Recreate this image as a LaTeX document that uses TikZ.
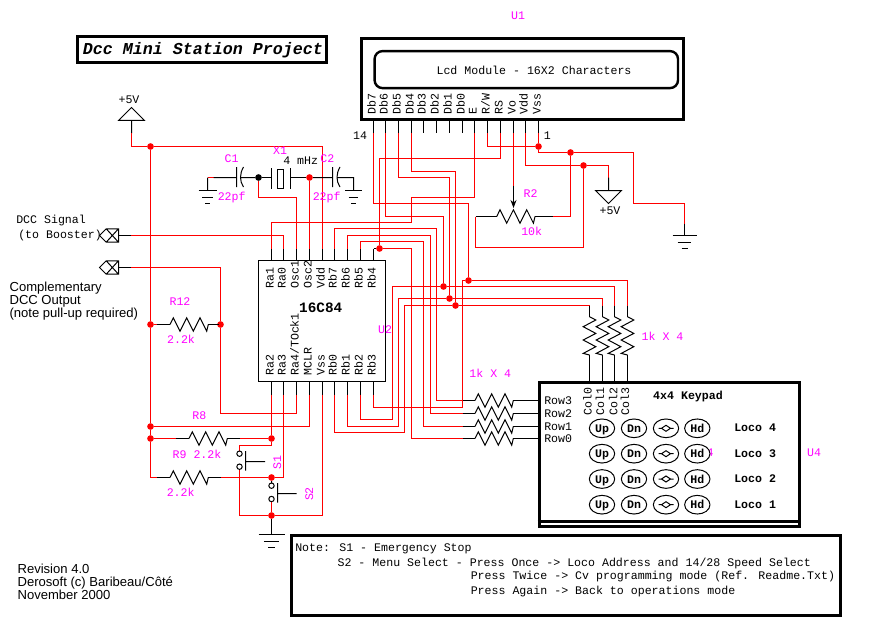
\documentclass[tikz,border=0pt]{standalone}
\usepackage{fontspec}
\usetikzlibrary{shapes.geometric,arrows.meta}
\newfontfamily\monof{Liberation Mono}
\newfontfamily\sansf{Liberation Sans}
\definecolor{pinkish}{RGB}{255,0,255}
\tikzset{
  wire/.style={red,line width=0.75pt},
  stub/.style={black,line width=0.75pt},
  junct/.style={circle,fill=red,inner sep=0pt,minimum size=5pt},
  txt/.style={font=\monof\fontsize{8.7}{10}\selectfont,inner sep=0pt,text height=6pt,text depth=0pt},
  boldtxt/.style={txt,font=\monof\bfseries\fontsize{8.7}{10}\selectfont},
  pinktxt/.style={txt,text=pinkish},
  pinlab/.style={txt,rotate=90,anchor=west},
  sanstxt/.style={font=\sansf\fontsize{9.8}{11}\selectfont,inner sep=0pt,anchor=west,text height=7pt,text depth=0pt},
  bigbox/.style={draw,line width=2.25pt,inner sep=0pt},
  btn/.style={ellipse,draw,fill=white,line width=0.75pt,inner sep=0pt,minimum width=19pt,minimum height=14pt,boldtxt},
  pics/resh/.style={code={\draw[stub] (0,0)--(3.3,-6.7)--(10,6.7)--(16.7,-6.7)--(23.3,6.7)--(30,-6.7)--(36.7,6.7)--(38.3,0);}},
  pics/resv/.style={code={\draw[stub] (0,0)--(6.3,3.3)--(-6.3,10)--(6.3,16.7)--(-6.3,23.3)--(6.3,30)--(-6.3,36.7)--(0,38.3);}},
  pics/gnd/.style={code={\draw[stub] (-#1,0)--(#1,0) (-#1*.58,6.5)--(#1*.58,6.5) (-#1*.25,13)--(#1*.25,13);}},
  pics/dccx/.style={code={\draw[stub] (0,0)--(6.7,-6.7)--(19,-6.7)--(19,6.7)--(6.7,6.7)--cycle (6.7,-6.7)--(19,6.7) (19,-6.7)--(6.7,6.7);}},
  pics/lens/.style={code={\draw[stub] (-7.5,0)--(-4.5,0)--(0,-3)--(4.5,0)--(7.5,0) (4.5,0)--(0,3)--(-4.5,0);}}
}
\begin{document}
\begin{tikzpicture}[x=0.75pt,y=-0.75pt]
\useasboundingbox (0,0) rectangle (873,631);
\node[bigbox,minimum width=186.75pt,minimum height=19.9pt] (titlebox) at (202,49.7) {};
\node[inner sep=0pt,font=\monof\bfseries\itshape\fontsize{12.5}{14}\selectfont] (title) at (203,50) {Dcc Mini Station Project};
\node[bigbox,minimum width=241.5pt,minimum height=60.75pt] (lcd) at (522.5,78.7) {};
\node[draw,line width=1.8pt,rounded corners=6pt,inner sep=0pt,minimum width=227.6pt,minimum height=27.75pt] (lcdwin) at (526.3,69.6) {};
\node[txt] (lcdtxt) at (534,71) {Lcd Module - 16X2 Characters};
\node[pinktxt] (u1) at (518,16) {U1};
\node[draw,line width=0.75pt,inner sep=0pt,minimum width=95.25pt,minimum height=90.75pt] (mcu) at (322,321) {};
\node[boldtxt,font=\monof\bfseries\fontsize{10.75}{12}\selectfont] (mcuname) at (320.7,308.3) {16C84};
\node[pinktxt] (u2) at (385,329) {U2};
\foreach \nm/\px/\lab in {db7/373.5/Db7,db6/385.5/Db6,db5/398.5/Db5,db4/411.5/Db4,db3/423.5/Db3,db2/436.5/Db2,db1/449.5/Db1,db0/462.5/Db0,lcde/474.5/E,rw/487.5/R\slash W,rs/500.5/RS,vo/513.5/Vo,vdd/525.5/Vdd,vss/538.5/Vss}{
  \coordinate (\nm) at (\px,133.5);
  \draw[stub] (\px,120)--(\nm);
  \node[pinlab] (lab\nm) at ({\px-2},114.5) {\lab};
}
\foreach \nm/\px/\lab in {tra1/271.5/Ra1,tra0/283.5/Ra0,tosc1/296.5/Osc1,tosc2/309.5/Osc2,tvdd/322.5/Vdd,trb7/334.5/Rb7,trb6/347.5/Rb6,trb5/360.5/Rb5,trb4/373.5/Rb4}{
  \coordinate (\nm) at (\px,248.5);
  \draw[stub] (\px,260.5)--(\nm);
  \node[pinlab] (lab\nm) at ({\px-2},289) {\lab};
}
\foreach \nm/\px/\lab in {bra2/271.5/Ra2,bra3/283.5/Ra3,bra4/296.5/Ra4\slash TOck1,bmclr/309.5/MCLR,bvss/322.5/Vss,brb0/334.5/Rb0,brb1/347.5/Rb1,brb2/360.5/Rb2,brb3/373.5/Rb3}{
  \coordinate (\nm) at (\px,394.5);
  \draw[stub] (\px,381.5)--(\nm);
  \node[pinlab] (lab\nm) at ({\px-2},376) {\lab};
}
\node[junct] (jrb4) at (379.5,248.5) {};
\node[junct] (jcol3) at (468.5,280.5) {};
\node[junct] (jcol2) at (443.5,286.5) {};
\node[junct] (jcol1) at (449.5,298.5) {};
\node[junct] (jcol0) at (455.5,305.5) {};
\node[junct] (jvss) at (538.5,146.5) {};
\node[junct] (jpot) at (570.5,152.5) {};
\node[junct] (jvdd) at (583.5,165.5) {};
\node[junct] (jvcc) at (150.5,146.5) {};
\node[junct] (jr12l) at (150.5,324.5) {};
\node[junct] (jr12r) at (220.5,324.5) {};
\node[junct] (jr8) at (150.5,426.5) {};
\node[junct] (jr9) at (150.5,438.5) {};
\node[junct] (jr9r) at (271.5,438.5) {};
\node[junct] (jr10) at (271.5,477.5) {};
\node[junct] (jgnd) at (271.5,515.5) {};
\node[junct] (jc2) at (309.5,177.5) {};
\node[junct,fill=black] (jc1) at (258.5,177.5) {};
\coordinate (row3) at (462.5,400.5);
\coordinate (row2) at (462.5,413.5);
\coordinate (row1) at (462.5,426.5);
\coordinate (row0) at (462.5,438.5);
\coordinate (col0) at (589.5,305.5);
\coordinate (col1) at (602.5,305.5);
\coordinate (col2) at (614.5,305.5);
\coordinate (col3) at (627.5,305.5);
\coordinate (vcc1) at (131.5,133.5);
\coordinate (vcc2) at (608.5,177.5);
\coordinate (gndr) at (684.5,223.5);
\coordinate (r2l) at (475.5,216.5);
\coordinate (r2r) at (552.5,216.5);
\coordinate (wiper) at (513.5,185.5);
\coordinate (dcc1) at (130.5,235.5);
\coordinate (dcc2) at (130.5,267.5);
\coordinate (r12l) at (156.5,324.5);
\coordinate (r12r) at (218.5,324.5);
\coordinate (r9l) at (175.5,438.5);
\coordinate (r9r) at (239.5,438.5);
\coordinate (r10l) at (156.5,477.5);
\coordinate (r10r) at (220.5,477.5);
\coordinate (s1a) at (239.5,451);
\coordinate (s1b) at (239.5,469.4);
\coordinate (s2a) at (271.5,483);
\coordinate (s2b) at (271.5,501.7);
\draw[wire] (db7) |- (468.5,203.5) -- (jcol3);
\draw[wire] (db6) |- (443.5,216.5) -- (jcol2);
\draw[wire] (db5) |- (449.5,177.5) -- (jcol1);
\draw[wire] (db4) |- (455.5,171.5) -- (jcol0);
\draw[wire] (lcde) |- (411.5,197.5) |- (271.5,222.5) -- (tra1);
\draw[wire] (rs) |- (379.5,158.5) -- (jrb4);
\draw[wire] (rw) |- (jvss);
\draw[wire] (vss) -- (jvss);
\draw[wire] (jvss) |- (jpot) -- (633.5,152.5) |- (684.5,203.5) -- (gndr);
\draw[wire] (jpot) |- (r2r);
\draw[wire] (vdd) |- (jvdd);
\draw[wire] (jvdd) -| (vcc2);
\draw[wire] (r2l) |- (583.5,247.5) -- (jvdd);
\draw[wire] (vo) -- (wiper);
\draw[stub,-{Stealth[length=6pt,width=4.5pt]}] (wiper) -- (513.5,208);
\draw[stub] (r2l) -- (496.7,216.5);
\draw[stub] (535,216.5) -- (r2r);
\pic at (496.7,216.5) {resh};
\draw[stub] (gndr) -- (684.5,235.5);
\pic at (684.5,235.5) {gnd=12};
\draw[stub] (vcc2) -- (608.5,190.5) (595.5,190.5) -- (621.5,190.5) -- (608.5,203.5) -- cycle;
\draw[wire] (trb7) |- (436.5,228.5) |- (row3);
\draw[wire] (trb6) |- (430.5,235.5) |- (row2);
\draw[wire] (trb5) |- (423.5,241.5) |- (row1);
\draw[stub] (trb4) -- (jrb4);
\draw[wire] (jrb4) -- (411.5,248.5) |- (row0);
\draw[wire] (brb3) |- (462.5,407.5) |- (jcol3);
\draw[wire] (brb2) |- (392.5,419.5) |- (jcol2);
\draw[wire] (brb1) |- (398.5,426.5) |- (jcol1);
\draw[wire] (brb0) |- (404.5,432.5) |- (jcol0);
\draw[wire] (jcol3) -| (col3);
\draw[wire] (jcol2) -| (col2);
\draw[wire] (jcol1) -| (col1);
\draw[wire] (jcol0) -- (col0);
\foreach \nm/\yy in {row3/400.5,row2/413.5,row1/426.5,row0/438.5}{
  \draw[stub] (\nm) -- (475,\yy) (513.3,\yy) -- (537.5,\yy);
  \pic at (475,\yy) {resh};
}
\foreach \nm/\px in {col0/589.5,col1/602.5,col2/614.5,col3/627.5}{
  \draw[stub] (\nm) -- (\px,316.7) (\px,355) -- (\px,381);
  \pic at (\px,316.7) {resv};
}
\draw[stub] (118.5,120.5) -- (131.5,107.5) -- (144.5,120.5) -- cycle (131.5,120.5) -- (vcc1);
\draw[wire] (vcc1) |- (jvcc);
\draw[wire] (jvcc) -| (tvdd);
\draw[wire] (jvcc) -- (jr12l) -- (jr8) -- (jr9) |- (r10l);
\draw[wire] (jc1) |- (296.5,197.5) -- (tosc1);
\draw[wire] (jc2) -- (tosc2);
\draw[wire] (207.5,177.5) -- (213.5,177.5);
\draw[stub] (207.5,190.5) -- (207.5,177.5) (213.5,177.5) -- (236.5,177.5) (236.5,167) -- (236.5,187)
  (243.5,167) .. controls (239.5,174) and (239.5,181) .. (243.5,187) (240.5,177.5) -- (jc1);
\pic at (207.5,190.5) {gnd=9};
\draw[stub] (jc1) -- (271.5,177.5) (271.5,168) -- (271.5,189) (290.5,168) -- (290.5,189) (290.5,177.5) -- (jc2);
\draw[stub] (277.5,169.5) rectangle (283.5,188.5);
\draw[stub] (jc2) -- (332.5,177.5) (332.5,167) -- (332.5,187)
  (340,167) .. controls (336,174) and (336,181) .. (340,187) (337,177.5) -- (353.5,177.5) -- (353.5,190.5);
\pic at (353.5,190.5) {gnd=8.5};
\pic at (99.5,235.5) {dccx};
\pic at (99.5,267.5) {dccx};
\draw[stub] (118.5,235.5) -- (dcc1) (118.5,267.5) -- (dcc2);
\draw[wire] (dcc1) -| (tra0);
\draw[wire] (bra4) |- (220.5,413.5) -- (jr12r) |- (dcc2);
\draw[wire] (jr12l) -- (r12l) (r12r) -- (jr12r);
\draw[stub] (r12l) -- (170,324.5) (208.3,324.5) -- (r12r);
\pic at (170,324.5) {resh};
\draw[wire] (bmclr) |- (jr8);
\draw[wire] (bra2) -- (jr9r);
\draw[wire] (jr9) -- (r9l) (r9r) -- (jr9r);
\draw[stub] (r9l) -- (189,438.5) (227.3,438.5) -- (r9r);
\pic at (189,438.5) {resh};
\draw[wire] (bra3) |- (jr10);
\draw[wire] (r10r) -- (jr10);
\draw[stub] (r10l) -- (170,477.5) (208.3,477.5) -- (r10r);
\pic at (170,477.5) {resh};
\draw[wire] (jr9r) |- (239.5,445.5) -- (s1a);
\draw[wire] (bvss) |- (jgnd);
\draw[wire] (jgnd) -| (s1b);
\draw[wire] (s2b) -- (jgnd);
\draw[stub] (239.5,453.7) circle[radius=2.7] (239.5,466.7) circle[radius=2.7]
  (245.5,451) -- (245.5,470.7) (245.5,461.5) -- (265,461.5);
\draw[stub] (jr10) -- (s2a) (271.5,485.7) circle[radius=2.7] (271.5,499) circle[radius=2.7]
  (277.5,483) -- (277.5,502.7) (277.5,493.5) -- (296.5,493.5);
\draw[stub] (jgnd) -- (271.5,534.5);
\pic at (271.5,534.5) {gnd=13};
\node[bigbox,minimum width=195pt,minimum height=108.15pt] (keypad) at (669,454.4) {};
\draw[line width=2.25pt] (keypad.west |- 0,521.3) -- (keypad.east |- 0,521.3);
\foreach \nm/\yy/\lab in {row3/400/Row3,row2/413/Row2,row1/426/Row1,row0/438/Row0}{
  \node[txt,anchor=west] (lab\nm) at (544,\yy) {\lab};
}
\foreach \nm/\px/\lab in {col0/587.7/Col0,col1/600/Col1,col2/613.3/Col2,col3/625/Col3}{
  \node[pinlab] (lab\nm) at (\px,416) {\lab};
}
\node[boldtxt] (padname) at (688,395) {4x4 Keypad};
\node[pinktxt] (u4) at (814,452) {U4};
\node[pinktxt] (pinkbit) at (710,452) {4};
\foreach \rr/\yy/\lyy in {4/428.3/427,3/453.7/453,2/479/478,1/504.7/504}{
  \node[btn] (up\rr) at (602,\yy) {Up};
  \node[btn] (dn\rr) at (634,\yy) {Dn};
  \node[btn] (md\rr) at (666,\yy) {};
  \pic at (666,\yy) {lens};
  \node[btn] (hd\rr) at (697.3,\yy) {Hd};
  \node[boldtxt,anchor=west] (loco\rr) at (734,\lyy) {Loco \rr};
}
\node[txt] (vcclab) at (129,100) {+5V};
\node[txt] (vcclabb) at (610,210) {+5V};
\node[txt] (n14) at (360,135) {14};
\node[txt] (n1) at (547.3,135) {1};
\node[txt] (xtal) at (300.7,160.7) {4 mHz};
\node[pinktxt] (r2) at (530.7,193) {R2};
\node[pinktxt] (r2val) at (531.7,231) {10k};
\node[pinktxt] (c1) at (231.7,158.3) {C1};
\node[pinktxt] (x1) at (280,150) {X1};
\node[pinktxt] (c2) at (327.3,158.3) {C2};
\node[pinktxt] (c1val) at (231.7,196.7) {22pf};
\node[pinktxt] (c2val) at (326.7,196.7) {22pf};
\node[pinktxt] (r12) at (180,301) {R12};
\node[pinktxt] (r12val) at (181,339.3) {2.2k};
\node[pinktxt] (r8) at (199.3,415) {R8};
\node[pinktxt] (r9) at (197,454) {R9 2.2k};
\node[pinktxt] (r10val) at (180.7,492.3) {2.2k};
\node[pinktxt,rotate=90] (s1) at (277,462.3) {S1};
\node[pinktxt,rotate=90] (s2) at (309,494) {S2};
\node[pinktxt] (coln) at (662.5,336) {1k X 4};
\node[pinktxt] (rown) at (490.3,373.3) {1k X 4};
\node[txt,anchor=west] (dcca) at (16,219.7) {DCC Signal};
\node[txt,anchor=west] (dccb) at (18,234) {(to Booster)};
\node[sanstxt] (compa) at (9.3,287) {Complementary};
\node[sanstxt] (compb) at (9.3,300.3) {DCC Output};
\node[sanstxt] (compc) at (9.3,313.3) {(note pull-up required)};
\node[sanstxt] (reva) at (17.3,569) {Revision 4.0};
\node[sanstxt] (revb) at (17.3,582.3) {Derosoft (c) Baribeau/Côté};
\node[sanstxt] (revc) at (17.3,595) {November 2000};
\node[bigbox,minimum width=411.97pt,minimum height=60.2pt] (notebox) at (566.1,575.6) {};
\node[txt,anchor=west] (notea) at (295,547.7) {Note: S1 - Emergency Stop};
\node[txt,anchor=west] (noteb) at (337.3,562) {S2 - Menu Select - Press Once -> Loco Address and 14/28 Speed Select};
\node[txt,anchor=west] (notec) at (470.5,575.7) {Press Twice -> Cv programming mode (Ref. Readme.Txt)};
\node[txt,anchor=west] (noted) at (470.5,590) {Press Again -> Back to operations mode};
\end{tikzpicture}
\end{document}
